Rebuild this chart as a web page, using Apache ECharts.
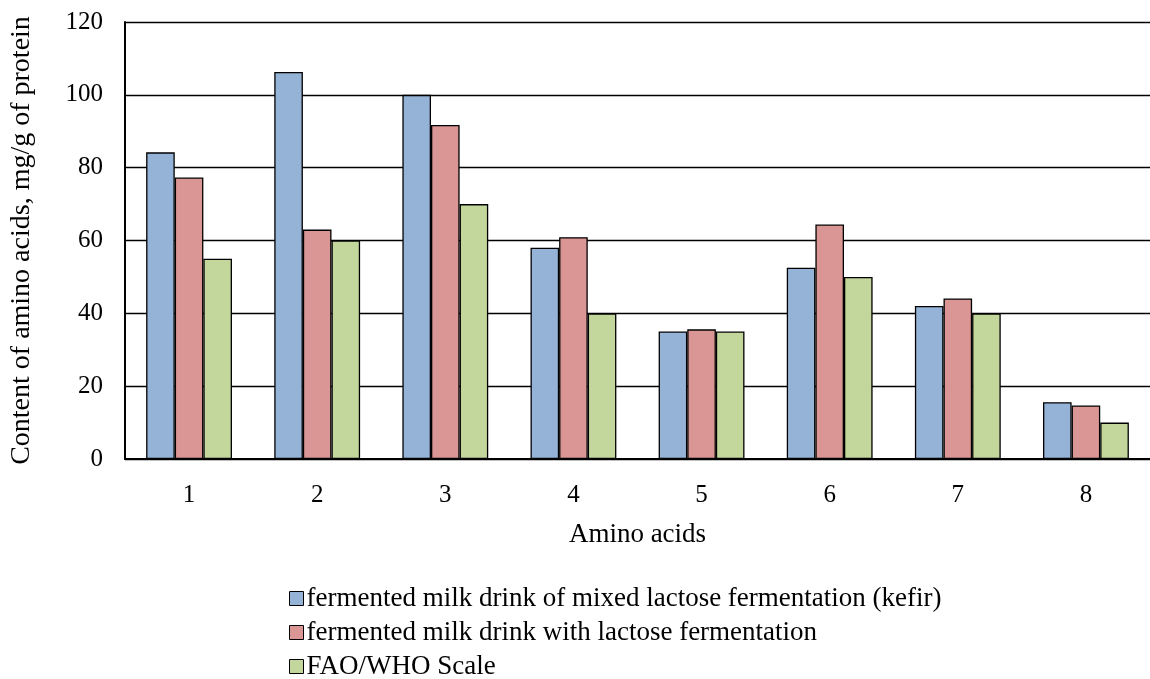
<!DOCTYPE html>
<html>
<head>
<meta charset="utf-8">
<script src="https://cdn.jsdelivr.net/npm/echarts@6/dist/echarts.min.js"></script>
<style>
html,body{margin:0;padding:0;background:#fff;}
#chart{width:1150px;height:679px;}
</style>
</head>
<body>
<div id="chart"></div>
<script>
const categories = ['1','2','3','4','5','6','7','8'];
const kefir = [84.2, 106.3, 100.0, 58.0, 35.0, 52.5, 42.0, 15.6];
const lactose = [77.3, 63.0, 91.7, 60.9, 35.6, 64.4, 44.1, 14.7];
const faoWho = [55.0, 60.0, 70.0, 40.0, 35.0, 50.0, 40.0, 10.0];
const seriesNames = [
  'fermented milk drink of mixed lactose fermentation (kefir)',
  'fermented milk drink with lactose fermentation',
  'FAO/WHO Scale'
];
const yTicks = [0, 20, 40, 60, 80, 100, 120];

const FONT = '"Liberation Serif", "Times New Roman", serif';
const colors = ['#95b3d7', '#d99694', '#c3d69b'];
const chart = echarts.init(document.getElementById('chart'), null, {renderer: 'canvas'});
const mk = (name, data, i) => ({
  name, type: 'bar', data,
  barGap: '0%', barCategoryGap: '33%',
  itemStyle: {color: colors[i], borderColor: '#000', borderWidth: 1.3},
  emphasis: {disabled: true}
});
chart.setOption({
  animation: false,
  textStyle: {fontFamily: FONT},
  grid: {left: 125, top: 22, width: 1028, height: 437, containLabel: false},
  xAxis: {
    type: 'category', data: categories,
    name: 'Amino acids', nameLocation: 'middle', nameGap: 62,
    nameTextStyle: {fontFamily: FONT, fontSize: 27, color: '#000'},
    axisLine: {lineStyle: {color: '#000', width: 2}},
    axisTick: {show: false},
    axisLabel: {fontFamily: FONT, fontSize: 25, color: '#000', margin: 24}
  },
  yAxis: {
    type: 'value', min: yTicks[0], max: yTicks[yTicks.length - 1], interval: 20,
    name: 'Content of amino acids, mg/g of protein', nameLocation: 'middle', nameGap: 89,
    nameTextStyle: {fontFamily: FONT, fontSize: 28, color: '#000'},
    axisLine: {show: true, lineStyle: {color: '#000', width: 2}},
    axisTick: {show: false},
    axisLabel: {fontFamily: FONT, fontSize: 25, color: '#000', margin: 22},
    splitLine: {lineStyle: {color: '#000', width: 1.3}}
  },
  legend: {
    orient: 'vertical', left: 284, top: 580, height: 120,
    itemWidth: 14, itemHeight: 14, itemGap: 7,
    icon: 'rect',
    textStyle: {fontFamily: FONT, fontSize: 27, lineHeight: 27, color: '#000', padding: [0, 0, 0, -2]},
    data: seriesNames.map((n, i) => ({name: n, itemStyle: {color: colors[i], borderColor: '#000', borderWidth: 1}}))
  },
  series: [mk(seriesNames[0], kefir, 0), mk(seriesNames[1], lactose, 1), mk(seriesNames[2], faoWho, 2)]
});
</script>
</body>
</html>
